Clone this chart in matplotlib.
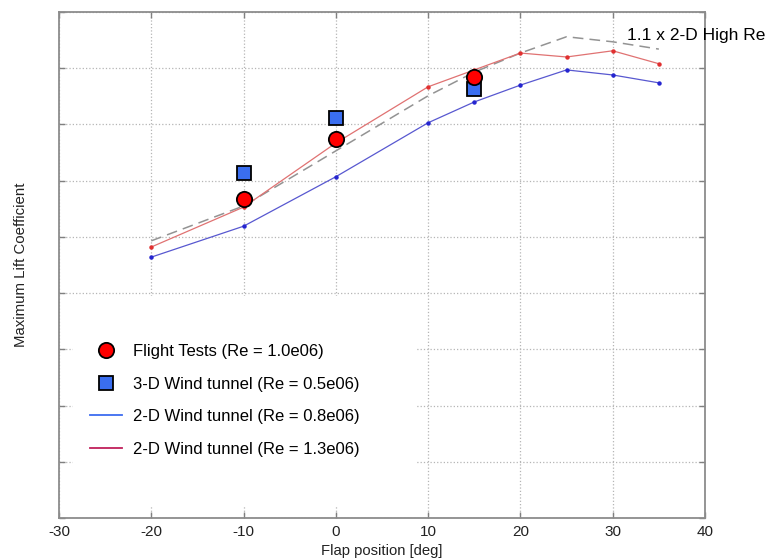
import numpy as np
import matplotlib
matplotlib.use('Agg')
import matplotlib.pyplot as plt
from matplotlib.lines import Line2D
from matplotlib.patches import Rectangle

plt.rcParams['font.family'] = ['Liberation Sans', 'DejaVu Sans']
plt.rcParams['axes.unicode_minus'] = False

# flap positions [deg]
flap_2d = [-20, -10, 0, 10, 15, 20, 25, 30, 35]
cl_2d_low = [1.364, 1.419, 1.507, 1.603, 1.640, 1.670, 1.697, 1.688, 1.674]
cl_2d_high = [1.382, 1.453, 1.567, 1.667, 1.697, 1.727, 1.720, 1.731, 1.708]
cl_2d_scaled = [1.393, 1.455, 1.553, 1.651, 1.693, 1.727, 1.756, 1.747, 1.734]

flap_test = [-10, 0, 15]
cl_flight = [1.467, 1.574, 1.684]
cl_3d = [1.514, 1.611, 1.663]

labels = ['Flight Tests (Re = 1.0e06)',
          '3-D Wind tunnel (Re = 0.5e06)',
          '2-D Wind tunnel (Re = 0.8e06)',
          '2-D Wind tunnel (Re = 1.3e06)']

fig = plt.figure(figsize=(7.66, 5.59), dpi=100)
ax = fig.add_axes([59/766, 41/559, 646/766, 506/559])

ax.plot(flap_2d, cl_2d_scaled, color='#939393', lw=1.1, ls=(0, (7, 4)), zorder=2)
ax.plot(flap_2d, cl_2d_high, color='#e07272', lw=0.9, marker='o', ms=2.2,
        mfc='#e03030', mec='#e03030', zorder=3)
ax.plot(flap_2d, cl_2d_low, color='#5858d0', lw=0.9, marker='o', ms=2.2,
        mfc='#2525d0', mec='#2525d0', zorder=3)
ax.plot(flap_test, cl_3d, ls='none', marker='s', ms=10, mfc='#3a6ef0',
        mec='black', mew=1.3, zorder=4)
ax.plot(flap_test, cl_flight, ls='none', marker='o', ms=11, mfc='#ff0000',
        mec='black', mew=1.3, zorder=5)

ax.text(31.5, 1.759, '1.1 x 2-D High Re', fontsize=12.5, va='center', ha='left',
        clip_on=False)

ax.set_xlim(-30, 40)
ax.set_ylim(0.9, 1.8)
ax.set_xticks(np.arange(-30, 41, 10))
ax.set_yticks(np.arange(0.9, 1.81, 0.1))
ax.set_yticklabels([])
ax.set_axisbelow(True)
ax.grid(True, color='#b5b5b5', ls=':', lw=0.9)
ax.tick_params(direction='in', top=True, right=True, length=4, width=1,
               color='#808080', labelsize=11, labelcolor='#222222', pad=5)
for s in ax.spines.values():
    s.set_color('#8c8c8c')
    s.set_linewidth(1.3)

ax.set_xlabel('Flap position [deg]', fontsize=10.7, labelpad=4, color='#222222')
ax.set_ylabel('Maximum Lift Coefficient', fontsize=10.8, labelpad=17, color='#222222')

# white area behind legend
ax.add_patch(Rectangle((0.0217, 0.0237), 0.532, 0.415, transform=ax.transAxes,
                       facecolor='white', edgecolor='none', zorder=1))

handles = [
    Line2D([], [], ls='none', marker='o', ms=11, mfc='#ff0000', mec='black', mew=1.3),
    Line2D([], [], ls='none', marker='s', ms=10, mfc='#3a6ef0', mec='black', mew=1.3),
    Line2D([], [], color='#3d6cf0', lw=1.3),
    Line2D([], [], color='#c0205a', lw=1.3),
]
ax.legend(handles, labels, loc='upper left', bbox_to_anchor=(0.048, 0.344),
          frameon=False, borderpad=0, borderaxespad=0, fontsize=12,
          handlelength=1.9, handletextpad=0.66, labelspacing=1.06)

fig.savefig('out.png', dpi=100)
